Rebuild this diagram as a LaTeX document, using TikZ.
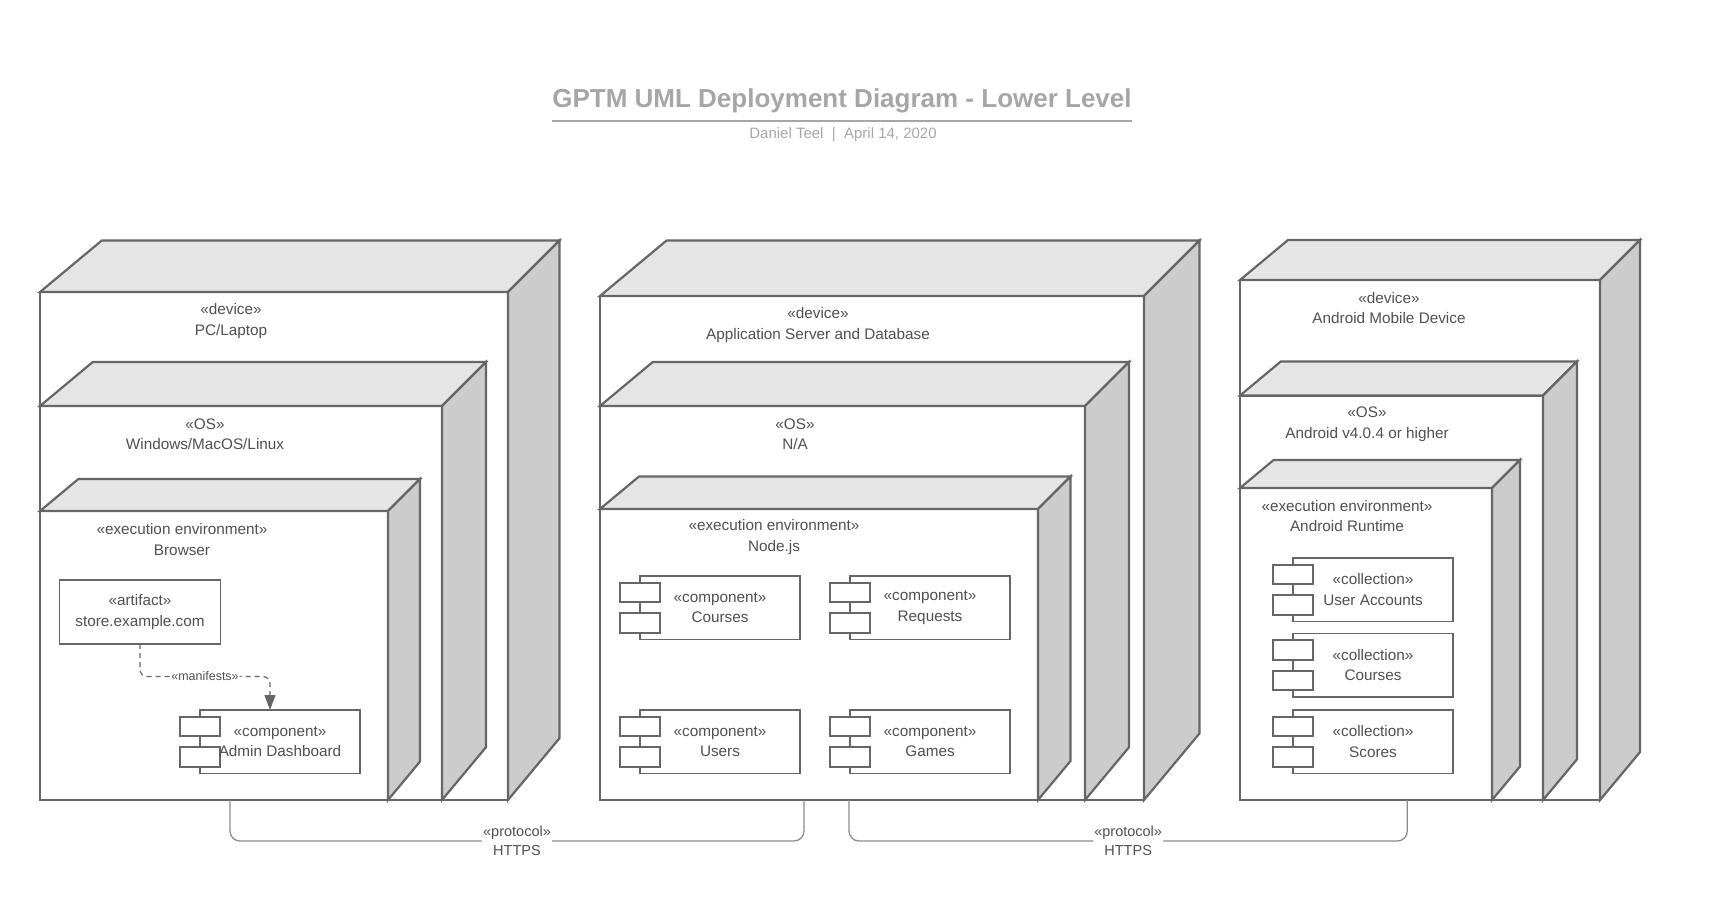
\documentclass[tikz,border=0pt]{standalone}
\usepackage{fontspec}
\setmainfont{Liberation Sans}
\usetikzlibrary{positioning,arrows.meta,calc}
\definecolor{edge}{RGB}{102,102,102}
\definecolor{topface}{RGB}{229,229,229}
\definecolor{sideface}{RGB}{204,204,204}
\definecolor{ink}{RGB}{80,80,80}
\definecolor{faint}{RGB}{166,166,166}
\definecolor{wire}{RGB}{140,140,140}
\tikzset{
  nodeface/.style={draw=edge,line width=2.2pt,fill=white,outer sep=0pt,inner sep=0pt,anchor=north west},
  topf/.style={draw=edge,line width=2.2pt,fill=topface},
  sidef/.style={draw=edge,line width=2.2pt,fill=sideface},
  lbl/.style={align=center,text=ink,font=\fontsize{15.3}{20.5}\selectfont},
  cmpbox/.style={draw=edge,line width=1.8pt,fill=white,minimum width=160pt,minimum height=63.5pt,inner sep=0pt,outer sep=0pt},
  portbox/.style={draw=edge,line width=1.8pt,fill=white,minimum width=40.5pt,minimum height=19.5pt,inner sep=0pt},
  deparrow/.style={draw=edge,line width=1.2pt,dash pattern=on 5pt off 4pt,rounded corners=7pt,-{Triangle[length=15pt,width=11pt]}},
  protoline/.style={draw=wire,line width=1.3pt,rounded corners=10pt},
  protolbl/.style={lbl,fill=white,inner sep=1pt,font=\fontsize{14.5}{19.5}\selectfont},
  mfstlbl/.style={lbl,fill=white,inner sep=1pt,font=\fontsize{12.5}{14}\selectfont},
  ttl/.style={text=faint,inner sep=0pt,font=\fontsize{26}{30}\selectfont\bfseries},
  subttl/.style={text=faint,font=\fontsize{15}{18}\selectfont},
}
% top and side faces of a 3D box; #1 node, #2 depth
\newcommand{\boxfaces}[2]{%
  \draw[topf] (#1.north west) -- ++(1.2*#2,-#2) -- ($(#1.north east)+(#2,-#2)$) -- (#1.north east) -- cycle;
  \draw[sidef] (#1.north east) -- ++(#2,-#2) -- ($(#1.south east)+(#2,-1.2*#2)$) -- (#1.south east) -- cycle;
}
% component with two ports; #1 name, #2 corner, #3 stereotype, #4 title
\newcommand{\comp}[4]{%
  \node[cmpbox,anchor=north west] (#1) at (#2) {};
  \node[portbox] (#1a) at ([yshift=15.3pt]#1.west) {};
  \node[portbox] (#1b) at ([yshift=-15.3pt]#1.west) {};
  \node[lbl] (#1t) at (#1.center) {#3\\#4};
}
\begin{document}
\begin{tikzpicture}[x=1pt,y=-1pt]
  \useasboundingbox (0,0) rectangle (1720,909);
  \node[ttl,anchor=base] (title) at (842,108) {GPTM UML Deployment Diagram - Lower Level};
  \draw[faint,line width=2pt] ([yshift=-7pt]title.south west) -- ([yshift=-7pt]title.south east);
  \node[subttl] (byline) at (843,135) {Daniel Teel\ \ |\ \ April 14, 2020};

  \node[nodeface,minimum width=468pt,minimum height=508pt] (pcdev) at (40,292) {};
  \boxfaces{pcdev}{51.5}
  \node[nodeface,minimum width=402pt,minimum height=394pt] (pcos) at (40,406) {};
  \boxfaces{pcos}{44}
  \node[nodeface,minimum width=348pt,minimum height=289pt] (brw) at (40,511) {};
  \boxfaces{brw}{32}
  \node[lbl] (pcdevl) at (231,321) {«device»\\PC/Laptop};
  \node[lbl] (pcosl) at (205,434) {«OS»\\Windows/MacOS/Linux};
  \node[lbl] (brwl) at (182,539.5) {«execution environment»\\Browser};
  \node[cmpbox,lbl,minimum width=161pt,minimum height=64pt,anchor=north west] (art) at (59.5,580) {«artifact»\\store.example.com};
  \comp{adm}{200,710}{«component»}{Admin Dashboard}
  \draw[deparrow] (art.south) -- ++(0,32.5) -| node[mfstlbl,pos=0.25] {«manifests»} ([xshift=-10pt]adm.north);

  \node[nodeface,minimum width=544pt,minimum height=504pt] (appdev) at (600,296) {};
  \boxfaces{appdev}{55.5}
  \node[nodeface,minimum width=485pt,minimum height=394pt] (appos) at (600,406) {};
  \boxfaces{appos}{44}
  \node[nodeface,minimum width=438pt,minimum height=291pt] (njs) at (600,509) {};
  \boxfaces{njs}{32.5}
  \node[lbl] (appdevl) at (818,325) {«device»\\Application Server and Database};
  \node[lbl] (apposl) at (795,434) {«OS»\\N/A};
  \node[lbl] (njsl) at (774,537) {«execution environment»\\Node.js};
  \comp{crs}{640,576}{«component»}{Courses}
  \comp{req}{850,576}{«component»}{Requests}
  \comp{usr}{640,710}{«component»}{Users}
  \comp{gms}{850,710}{«component»}{Games}

  \node[nodeface,minimum width=360pt,minimum height=520pt] (anddev) at (1240,280) {};
  \boxfaces{anddev}{40}
  \node[nodeface,minimum width=303pt,minimum height=404.5pt] (andos) at (1240,395.5) {};
  \boxfaces{andos}{34}
  \node[nodeface,minimum width=252pt,minimum height=312pt] (art2) at (1240,488) {};
  \boxfaces{art2}{28}
  \node[lbl] (anddevl) at (1389,308) {«device»\\Android Mobile Device};
  \node[lbl] (andosl) at (1367,424) {«OS»\\Android v4.0.4 or higher};
  \node[lbl] (art2l) at (1347,516) {«execution environment»\\Android Runtime};
  \comp{uac}{1293,558}{«collection»}{User Accounts}
  \comp{crc}{1293,633.5}{«collection»}{Courses}
  \comp{scr}{1293,710}{«collection»}{Scores}

  \draw[protoline] ([xshift=-44pt]pcdev.south) -- ++(0,41) -| node[protolbl,pos=0.25] {«protocol»\\HTTPS} ([xshift=-68pt]appdev.south);
  \draw[protoline] ([xshift=-23pt]appdev.south) -- ++(0,41) -| node[protolbl,pos=0.25] {«protocol»\\HTTPS} ([xshift=-12.7pt]anddev.south);
\end{tikzpicture}
\end{document}
